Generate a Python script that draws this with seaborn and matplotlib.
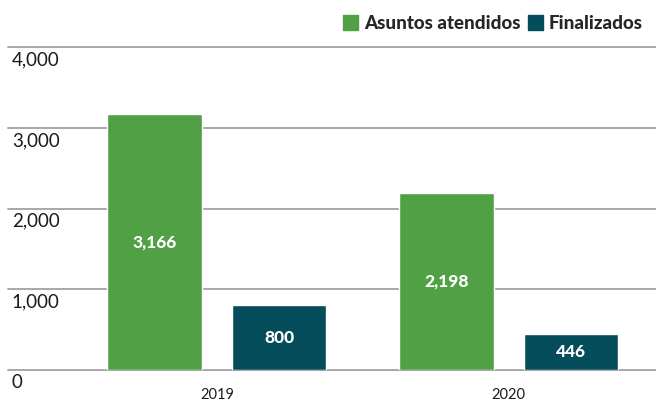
import matplotlib.pyplot as plt
import matplotlib.transforms as mtransforms
from matplotlib.patches import Patch
import seaborn as sns
import pandas as pd

# datos
years = ['2019', '2020']
atendidos = [3166, 2198]
finalizados = [800, 446]
series_names = ['Asuntos atendidos', 'Finalizados']
y_ticks = [0, 1000, 2000, 3000, 4000]

green = '#52a046'
teal = '#064d5c'
grid_color = '#a8a8a8'

sns.set_style('white')
plt.rcParams['font.family'] = ['Lato', 'DejaVu Sans']

df = pd.DataFrame({
    'Año': years * 2,
    'Valor': atendidos + finalizados,
    'Serie': [series_names[0]] * len(years) + [series_names[1]] * len(years),
})

fig = plt.figure(figsize=(6.56, 4.03), dpi=100)
ax = fig.add_axes([0.108, 0.082, 0.890, 0.801])

sns.barplot(data=df, x='Año', y='Valor', hue='Serie', palette=[green, teal],
            width=0.853, gap=0.24, ax=ax, legend=False, saturation=1, zorder=3)

ax.set_ylim(0, 4000)
ax.set_xlim(-0.5, 1.5)
for s in ax.spines.values():
    s.set_visible(False)

# lineas de cuadricula extendidas al margen izquierdo
x0 = (8 / 656 - 0.108) / 0.890
for v in y_ticks:
    ax.axhline(v, xmin=x0, xmax=1.01, color=grid_color, lw=1.4, clip_on=False, zorder=1)

# etiquetas del eje y bajo cada linea
ax.set_yticks([])
trans = mtransforms.blended_transform_factory(fig.transFigure, ax.transData)
trans = trans + mtransforms.ScaledTranslation(0, -3 / 72, fig.dpi_scale_trans)
for v in y_ticks:
    ax.text(0.018, v, f'{v:,}', transform=trans, ha='left', va='top',
            fontsize=13.5, color='#1a1a1a')

# eje x
ax.set_xlabel('')
ax.set_ylabel('')
ax.set_xticks(range(len(years)))
ax.set_xticklabels(years)
ax.tick_params(axis='x', which='major', length=0, pad=13, labelsize=10.5, labelcolor='#1a1a1a')
ax.set_xticks([-0.5, 0.5, 1.5], minor=True)
ax.tick_params(axis='x', which='minor', length=9, width=1, color=grid_color, direction='out')

for cont in ax.containers:
    ax.bar_label(cont, labels=[f'{v:,.0f}' for v in cont.datavalues], label_type='center',
                 color='white', fontsize=12.5, fontweight='black')

handles = [Patch(color=green, label=series_names[0]), Patch(color=teal, label=series_names[1])]
fig.legend(handles=handles, loc='upper right', bbox_to_anchor=(1.005, 1.005), ncol=2,
           frameon=False, handlelength=0.8, handleheight=0.8, handletextpad=0.3,
           columnspacing=0.4, prop={'weight': 'black', 'size': 13.5})

fig.savefig('out.png', dpi=100)
